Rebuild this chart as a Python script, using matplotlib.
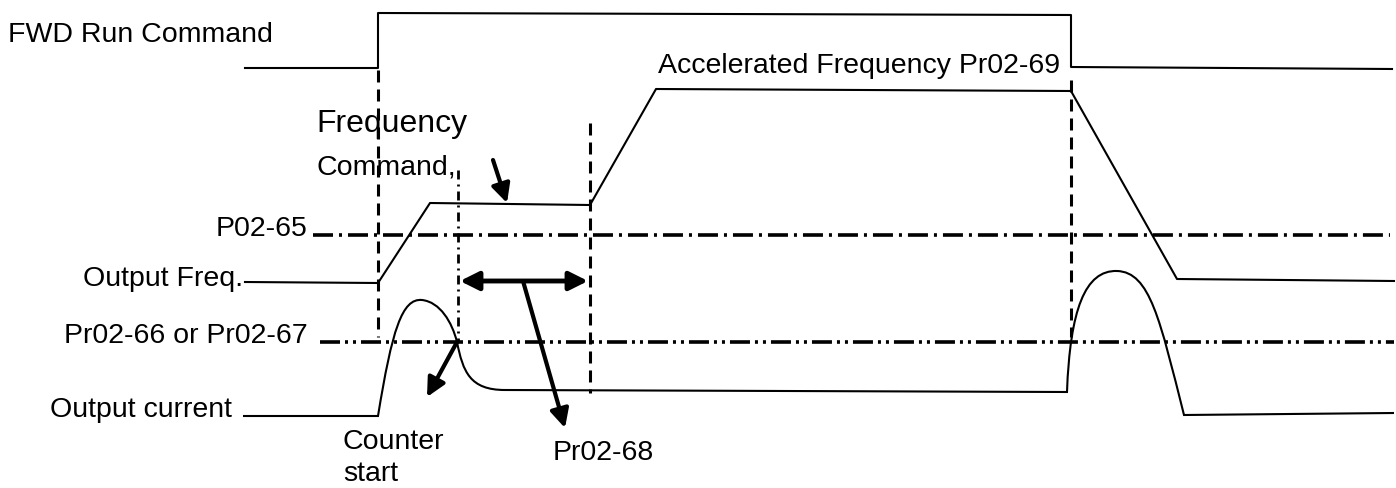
import matplotlib.pyplot as plt
from matplotlib.path import Path
from matplotlib.patches import PathPatch

# picture units: x = time (px), y = level (px, downwards)
W, H = 1396, 488

# FWD run command
fwd_t = [245, 378, 378, 1071, 1071, 1392]
fwd_v = [68, 68, 13, 15, 67, 69]

# output frequency
freq_t = [245, 378, 430, 590, 656, 1071, 1177, 1394]
freq_v = [282, 283, 203, 205, 89, 91, 279, 281]

# output current (line + bezier humps)
cur_pts = [(243, 416), (378, 416),
           (392, 330), (402, 298), (422, 300),
           (440, 302), (452, 322), (457, 342),
           (463, 372), (470, 390), (505, 390),
           (1067, 392),
           (1070, 310), (1085, 270), (1117, 271),
           (1150, 272), (1160, 320), (1184, 415),
           (1394, 413)]
cur_codes = [Path.MOVETO, Path.LINETO,
             Path.CURVE4, Path.CURVE4, Path.CURVE4,
             Path.CURVE4, Path.CURVE4, Path.CURVE4,
             Path.CURVE4, Path.CURVE4, Path.CURVE4,
             Path.LINETO,
             Path.CURVE4, Path.CURVE4, Path.CURVE4,
             Path.CURVE4, Path.CURVE4, Path.CURVE4,
             Path.LINETO]

# threshold levels
lvl_p0265 = 235
lvl_p0266 = 342

# event markers: time, top, bottom
t_run, t_cnt, t_acc, t_stop = 378, 458, 590, 1071
markers = [(t_run, 70, 337), (t_acc, 123, 393), (t_stop, 80, 337)]


def dashes(px, lw):
    # dash pattern given in pixels
    return (0, [p / 1.389 / lw for p in px])


fig = plt.figure(figsize=(W / 100, H / 100), dpi=100)
ax = fig.add_axes([0, 0, 1, 1])
ax.set_xlim(0, W)
ax.set_ylim(H, 0)
ax.axis('off')

lw = 1.5
ax.plot(fwd_t, fwd_v, color='black', lw=lw)
ax.plot(freq_t, freq_v, color='black', lw=lw)
ax.add_patch(PathPatch(Path(cur_pts, cur_codes), fill=False, edgecolor='black', lw=lw))

# threshold lines
ax.plot([313, 1390], [lvl_p0265, lvl_p0265], color='black', lw=2.6,
        linestyle=dashes([20, 6, 3, 6], 2.6))
ax.plot([320, 1394], [lvl_p0266, lvl_p0266], color='black', lw=2.6,
        linestyle=dashes([20, 5, 3, 5, 3, 5], 2.6))

# vertical markers
for t, y0, y1 in markers:
    ax.plot([t, t], [y0, y1], color='black', lw=2.2, linestyle=dashes([12, 7], 2.2))
ax.plot([t_cnt, t_cnt], [170, 342], color='black', lw=2.0,
        linestyle=dashes([9, 5, 2, 5], 2.0))

# arrows
head = dict(arrowstyle='-|>', color='black', lw=3, mutation_scale=28, shrinkA=0, shrinkB=0)
ax.annotate('', xy=(507, 203), xytext=(493, 160), arrowprops=head)
ax.annotate('', xy=(427, 397), xytext=(457, 342), arrowprops=head)
ax.annotate('', xy=(565, 428), xytext=(523, 281), arrowprops=head)
ax.annotate('', xy=(588, 281), xytext=(460, 281),
            arrowprops=dict(arrowstyle='<|-|>', color='black', lw=3.5,
                            mutation_scale=28, shrinkA=0, shrinkB=0))

# labels
fam = ['Liberation Sans', 'DejaVu Sans']
fs = 20.5
txt = dict(family=fam, fontsize=fs, color='black', va='baseline')
ax.text(8, 42, 'FWD Run Command', ha='left', **txt)
ax.text(1060, 73, 'Accelerated Frequency Pr02-69', ha='right', **txt)
ax.text(316, 132, 'Frequency', ha='left', family=fam, fontsize=23, va='baseline')
ax.text(316, 175, 'Command,', ha='left', **txt)
ax.text(308, 236, 'P02-65', ha='right', **txt)
ax.text(243, 286, 'Output Freq.', ha='right', **txt)
ax.text(308, 343, 'Pr02-66 or Pr02-67', ha='right', **txt)
ax.text(232, 417, 'Output current', ha='right', **txt)
ax.text(343, 449, 'Counter', ha='left', **txt)
ax.text(343, 481, 'start', ha='left', **txt)
ax.text(553, 460, 'Pr02-68', ha='left', **txt)

fig.savefig('out.png', dpi=100, facecolor='white')
